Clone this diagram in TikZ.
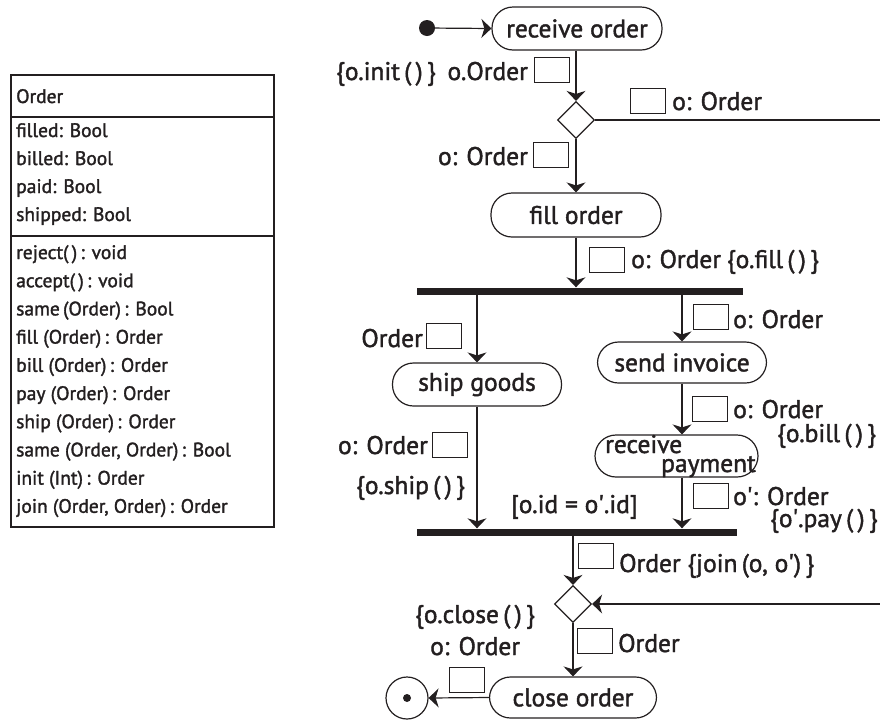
\documentclass[tikz,border=0pt]{standalone}
\usepackage{fontspec}
\setmainfont{PT Sans}[FakeBold=1.6]
\usetikzlibrary{arrows.meta,shapes.geometric}
\definecolor{ink}{HTML}{231F20}
\newcommand{\sq}{\textquotesingle}
\newcommand{\ep}{(\,)}
\begin{document}
\begin{tikzpicture}[x=1pt,y=-1pt,
  every node/.style={text=ink},
  big/.style={font=\fontsize{25.5}{25.5}\selectfont, inner sep=0pt},
  small/.style={font=\fontsize{19.5}{19.5}\selectfont, inner sep=0pt, anchor=base west},
  act/.style={draw=ink, line width=1.2pt, rounded corners=21pt, minimum height=42pt,
              inner sep=0pt, font=\fontsize{25.5}{25.5}\selectfont},
  obj/.style={draw=ink, line width=1pt, minimum width=35pt, minimum height=25pt, inner sep=0pt},
  branch/.style={diamond, draw=ink, line width=1.2pt, minimum width=37pt, minimum height=37pt,
                 inner sep=0pt, aspect=1},
  syncbar/.style={fill=ink, minimum height=7pt, inner sep=0pt},
  flow/.style={draw=ink, line width=1.2pt},
  arr/.style={flow, -{Stealth[length=10pt, width=19pt, inset=3pt]}},
]
\useasboundingbox (0,0) rectangle (880,721);

% ---------- class box ----------
\draw[ink, line width=2pt] (11,75) rectangle (274,527);
\draw[ink, line width=2pt] (11,117) -- (274,117);
\draw[ink, line width=2pt] (11,236) -- (274,236);
\node[small] (cname) at (16,103) {Order};
\foreach \t [count=\i] in {filled: Bool, billed: Bool, paid: Bool, shipped: Bool}
  \node[small] (attr\i) at (16,137+28*\i-28) {\t};
\foreach \t [count=\i] in {reject\ep\,: void, accept\ep\,: void, same\,(Order)\,: Bool,
    fill (Order)\,: Order, bill (Order)\,: Order, pay (Order)\,: Order, ship (Order)\,: Order,
    {same (Order, Order)\,: Bool}, init (Int)\,: Order, {join (Order, Order)\,: Order}}
  \node[small] (meth\i) at (16,259+28.2*\i-28.2) {\t};

% ---------- activity nodes ----------
\node[circle, fill=ink, minimum size=16pt, inner sep=0pt] (start) at (427,28) {};
\node[act, minimum width=170pt, minimum height=43pt] (recv) at (577,28.5) {receive order};
\node[branch] (d1) at (576,120) {};
\coordinate (r1) at (880,120);
\node[act, minimum width=170pt, minimum height=44pt] (fill) at (576,215) {fill order};
\node[syncbar, minimum width=326pt] (bar1) at (580,291) {};
\node[act, minimum width=169pt, minimum height=43pt] (ship) at (477,384.5) {ship goods};
\node[act, minimum width=169pt, minimum height=41pt] (send) at (682,362.5) {send invoice};
\node[act, minimum width=163pt, minimum height=42pt] (rpay) at (676.5,456) {};
\node[big, anchor=base west] (rpay1) at (605,453) {receive};
\node[big, anchor=base west] (rpay2) at (661,472) {payment};
\node[syncbar, minimum width=320pt] (bar2) at (577,532) {};
\node[branch] (d2) at (573,604) {};
\coordinate (r2) at (880,604);
\node[act, minimum width=167pt, minimum height=41pt] (close) at (573,697.5) {close order};
\node[circle, draw=ink, line width=1.2pt, minimum size=42pt, inner sep=0pt] (end) at (407,698) {};
\node[circle, fill=ink, minimum size=8pt, inner sep=0pt] (enddot) at (end.center) {};

% ---------- flows ----------
\draw[arr] (start) -- (recv.west);
\draw[arr] (recv.south -| d1.north) -- (d1.north);
\draw[flow] (d1.east) -- (r1);
\draw[arr] (d1.south) -- (fill.north);
\draw[arr] (fill.south) -- (fill.south |- bar1.north);
\draw[arr] (bar1.south -| ship.north) -- (ship.north);
\draw[arr] (bar1.south -| send.north) -- (send.north);
\draw[arr] (send.south) -- (send.south |- rpay.north);
\draw[arr] (send.south |- rpay.south) -- (send.south |- bar2.north);
\draw[arr] (ship.south) -- (ship.south |- bar2.north);
\draw[arr] (bar2.south -| d2.north) -- (d2.north);
\draw[arr] (r2) -- (d2.east);
\draw[arr] (d2.south) -- (close.north);
\draw[arr] (close.west) -- (end.east);

% ---------- object flow pins ----------
\node[obj] (ob1) at (551.5,69.5) {};
\node[obj] (ob2) at (648,100.5) {};
\node[obj] (ob3) at (551,154.5) {};
\node[obj] (ob4) at (607,259.5) {};
\node[obj] (ob5) at (443.5,336) {};
\node[obj] (ob6) at (449.5,445) {};
\node[obj] (ob7) at (710.5,317) {};
\node[obj] (ob8) at (709.5,408.5) {};
\node[obj] (ob9) at (711,495.5) {};
\node[obj] (ob10) at (596,555.5) {};
\node[obj] (ob11) at (595,640.5) {};
\node[obj] (ob12) at (466.5,679.5) {};

% ---------- labels ----------
\node[big, anchor=base west] (l1a) at (336,80) {\{o.init\,\ep\,\}};
\node[big, anchor=base east] (l1b) at (528,80) {o.Order};
\node[big, anchor=base west] (l2) at (672,110) {o: Order};
\node[big, anchor=base east] (l3) at (528,165) {o: Order};
\node[big, anchor=base west] (l4) at (631,268) {o: Order\hspace{6pt}\{o.fill\,\ep\,\}};
\node[big, anchor=base east] (l5) at (423,347) {Order};
\node[big, anchor=base east] (l6a) at (428,454) {o: Order};
\node[big, anchor=base west] (l6b) at (356,494) {\{o.ship\,\ep\,\}};
\node[big, anchor=base west] (l7) at (733,328) {o: Order};
\node[big, anchor=base west] (l8a) at (733,418) {o: Order};
\node[big, anchor=base west] (l8b) at (777,442) {\{o.bill\,\ep\,\}};
\node[big, anchor=base west] (l9a) at (733,505) {o\sq: Order};
\node[big, anchor=base west] (l9b) at (770,527) {\{o\sq.pay\,\ep\,\}};
\node[big, anchor=base west] (guard) at (511,513) {[o.id = o\sq.id]};
\node[big, anchor=base west] (l10) at (619,572) {Order \{join\,(o, o\sq)\,\}};
\node[big, anchor=base west] (l11) at (618,652) {Order};
\node[big, anchor=base west] (l12a) at (415,623) {\{o.close\,\ep\,\}};
\node[big, anchor=base west] (l12b) at (430,655) {o: Order};
\end{tikzpicture}
\end{document}
